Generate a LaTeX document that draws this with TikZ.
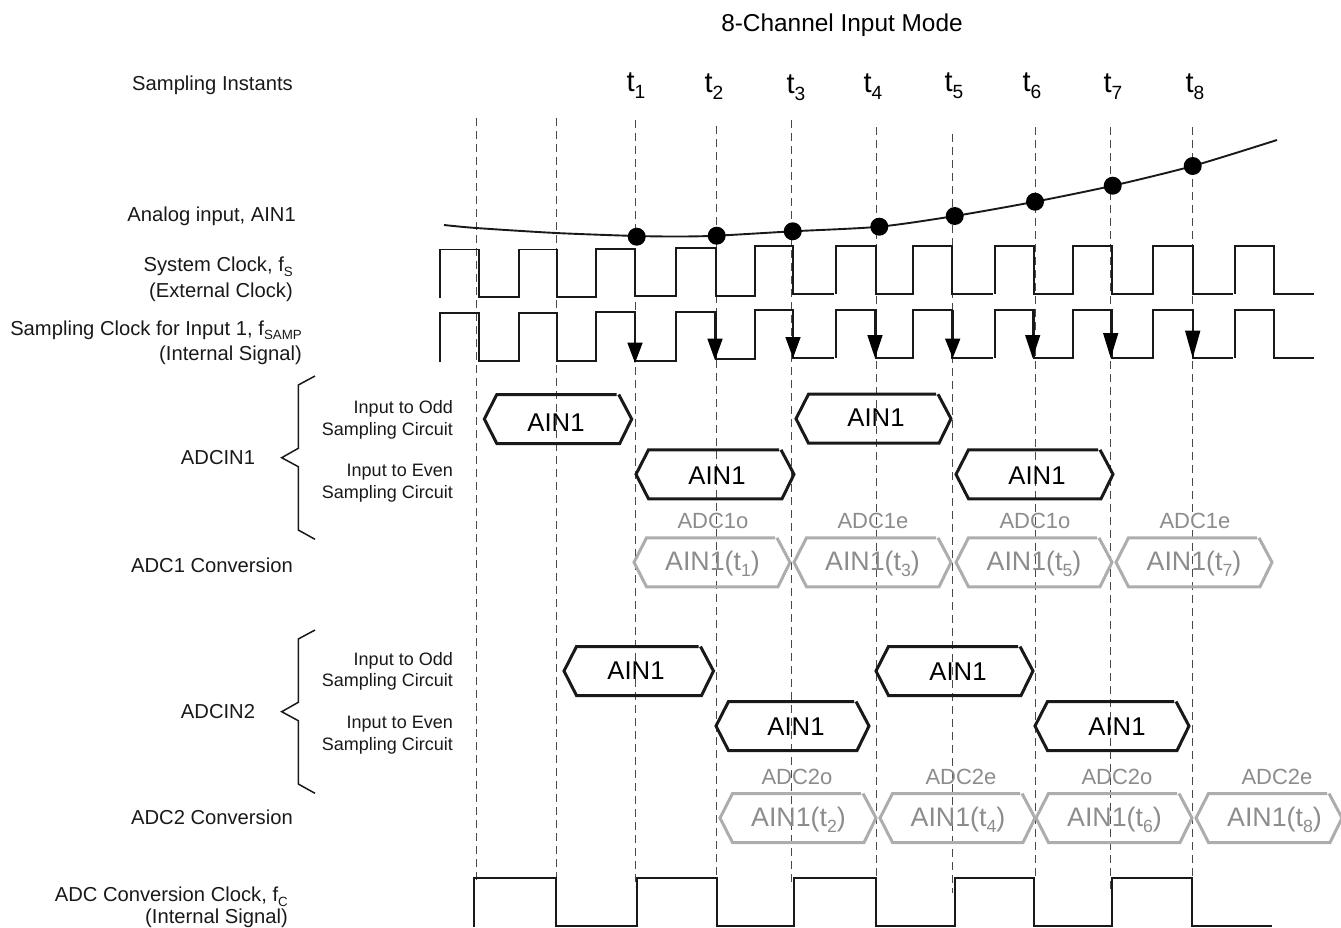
\documentclass[tikz,border=0pt]{standalone}
\usepackage{fontspec}
\setmainfont{Liberation Sans}
\newcommand\subt[1]{\raisebox{-.22em}{\scalebox{.66}{#1}}}
\definecolor{dashc}{HTML}{484848}
\definecolor{hexgray}{HTML}{ADADAD}
\definecolor{txtgray}{HTML}{8C8C8C}
\tikzset{
  lbl/.style={inner sep=0pt,yshift=-1.2pt,font=\fontsize{20.2}{24}\selectfont,text=black!90},
  lblr/.style={lbl,anchor=east},
  small/.style={inner sep=0pt,yshift=-1pt,anchor=east,font=\fontsize{18}{22}\selectfont,text=black!90},
  big/.style={inner sep=0pt,yshift=-.6pt,font=\fontsize{25.7}{30}\selectfont},
  hexblack/.style={line width=3pt,black!90,line join=miter},
  hexgrey/.style={line width=3pt,hexgray,line join=miter},
  graytext/.style={inner sep=0pt,text=txtgray,font=\fontsize{22}{26}\selectfont},
  grayhex/.style={inner sep=0pt,yshift=-1.5pt,text=txtgray,font=\fontsize{26.8}{30}\selectfont},
  timing/.style={line width=1.9pt,black!90,line join=miter},
  guide/.style={line width=1.4pt,dashc,dash pattern=on 8pt off 5pt},
  brace/.style={line width=1.5pt,black!90,line join=miter},
  sampledot/.style={circle,fill=black,inner sep=0pt,minimum size=18pt},
}
\begin{document}
\begin{tikzpicture}[x=1pt,y=-1pt]
\useasboundingbox (0,0) rectangle (1341,927);
% dashed guides
\foreach \x/\a/\b in {476.7/118/883,556.7/118/878,635.3/120/887,716.7/126/878,791.7/120/887,876.7/127/878,952.7/134/893,1035.3/127/878,1110.7/127/893,1192.7/127/878}{
  \draw[guide] (\x,\a) -- (\x,\b);
}
% analog curve
\draw[line width=1.9pt,black!90] plot[smooth,tension=.45] coordinates {(444,225) (476,228) (556,233) (636.7,236) (680,236.5) (716.7,235.7) (792.7,231.3) (879.3,226.7) (954.7,216) (1035,201.7) (1112.7,185.7) (1192.7,166) (1277,140)};
\foreach \n/\x/\y in {1/636.7/236.7,2/716.7/235.7,3/792.7/231.3,4/879.3/226.7,5/954.7/216,6/1035/201.7,7/1112.7/185.7,8/1192.7/166}{
  \node[sampledot] (dot\n) at (\x,\y) {};
}
% system clock
\draw[timing] (440,298) -- (440,249.5) -- (479,249.5) -- (479,297) -- (519,297) -- (519,249.5) -- (557,249.5) -- (557,297) -- (595.7,297) -- (595.7,248.7) -- (635,248.7) -- (635,296) -- (675.7,296) -- (675.7,248) -- (715.7,248) -- (715.7,295.7) -- (754.7,295.7) -- (754.7,246) -- (793,246) -- (793,294) -- (834,294);
\draw[timing] (836,294) -- (836,246) -- (875.7,246) -- (875.7,294) -- (913.3,294) -- (913.3,246) -- (952.3,246) -- (952.3,294) -- (992.7,294);
\draw[timing] (995,294) -- (995,246) -- (1034,246) -- (1034,294) -- (1073.3,294) -- (1073.3,246) -- (1112.3,246) -- (1112.3,294) -- (1153.3,294) -- (1153.3,246) -- (1192.7,246) -- (1192.7,294) -- (1232.7,294);
\draw[timing] (1235,294) -- (1235,246) -- (1274.3,246) -- (1274.3,294) -- (1314,294);
% sampling clock
\draw[timing] (440,362) -- (440,313) -- (479,313) -- (479,361) -- (519,361) -- (519,313) -- (557,313) -- (557,361) -- (595.7,361) -- (595.7,312) -- (635,312) -- (635,360.7) -- (675.7,360.7) -- (675.7,312) -- (715.7,312) -- (715.7,359.3) -- (754.7,359.3) -- (754.7,310) -- (793,310) -- (793,358) -- (834,358);
\draw[timing] (836,358) -- (836,310) -- (875.7,310) -- (875.7,358) -- (913.3,358) -- (913.3,310) -- (952.3,310) -- (952.3,358) -- (992.7,358);
\draw[timing] (995,358) -- (995,310) -- (1034,310) -- (1034,358) -- (1073.3,358) -- (1073.3,310) -- (1112.3,310) -- (1112.3,358) -- (1153.3,358) -- (1153.3,310) -- (1192.7,310) -- (1192.7,358) -- (1232.7,358);
\draw[timing] (1235,358) -- (1235,310) -- (1274.3,310) -- (1274.3,358) -- (1314,358);
% sampling arrows
\foreach \x/\t/\b/\h in {635/363/342.7/312,715/360/338.7/312,793/358/337/310,875/358/335/310,952.7/358/338.7/310,1032.7/358/335/310,1110.7/358/333/310,1192.7/358/330.7/310}{
  \draw[line width=2.4pt,black!90] (\x,\h) -- (\x,\b);
  \fill[black] (\x-7.7,\b) -- (\x+7.7,\b) -- (\x,\t) -- cycle;
}
% conversion clock
\draw[timing,line width=2.1pt] (474,927) -- (474,878.3) -- (556,878.3) -- (556,926) -- (636.7,926) -- (636.7,877.7) -- (716.7,877.7) -- (716.7,926) -- (794,926) -- (794,878.3) -- (876,878.3) -- (876,926) -- (955,926) -- (955,878.3) -- (1034,878.3) -- (1034,926) -- (1112.3,926) -- (1112.3,878.3) -- (1192.3,878.3) -- (1192.3,926) -- (1271.7,926);
% black hexagons
\foreach \l/\r/\y/\tx/\ty/\n in {484.3/631.7/419/556/422/oa,796/951/418.7/876/417/ob,636/794/474.3/717/475/ea,956/1113/474.3/1037/475/eb,564/713.5/671/636/670/oc,876/1033/671/958/671/od,716/869/726/796/726/ec,1035/1189/726/1117/726/ed}{
  \draw[hexblack] (\r-15,\y-24.5) -- (\l+12.5,\y-24.5) -- (\l,\y) -- (\l+12.5,\y+24.5) -- (\r-12,\y+24.5) -- (\r,\y) -- (\r-13,\y-24.5);
  \node[big] (hex\n) at (\tx,\ty) {AIN1};
}
% grey hexagons
\foreach \l/\r/\y/\tx/\n/\s/\hx/\hl in {634/790/562.3/712.5/1/1/713/ADC1o,794/951/562.3/872.5/3/3/873/ADC1e,956/1112/562.3/1034/5/5/1035/ADC1o,1116/1272/562.3/1194/7/7/1195/ADC1e,720/876/818/798.5/2/2/797/ADC2o,880/1035/818/958/4/4/961/ADC2e,1036/1192/818/1114.5/6/6/1117/ADC2o,1196/1342/818/1274.5/8/8/1277/ADC2e}{
  \draw[hexgrey] (\r-15,\y-24.5) -- (\l+12.5,\y-24.5) -- (\l,\y) -- (\l+12.5,\y+24.5) -- (\r-12,\y+24.5) -- (\r,\y) -- (\r-13,\y-24.5);
  \node[grayhex] (conv\n) at (\tx,\y) {AIN1(t\subt{\s})};
  \node[graytext] (tag\n) at (\hx,\y-41.5) {\hl};
}
% braces
\draw[brace] (315,376) -- (298.3,385) -- (298.3,448.3) -- (281.7,457.7) -- (298.3,466.7) -- (298.3,530) -- (315,539.3);
\draw[brace] (315,630) -- (298.3,639) -- (298.3,702.3) -- (281.7,711.7) -- (298.3,720.7) -- (298.3,784) -- (315,793.3);
% title and instants
\node[big,font=\fontsize{24.4}{30}\selectfont] (title) at (842,25) {8-Channel Input Mode};
\foreach \n/\x/\y in {1/636/85,2/714/86,3/796/87,4/873/86,5/954/85,6/1032/85,7/1113/86,8/1195/86}{
  \node[big,font=\fontsize{29}{34}\selectfont] (inst\n) at (\x,\y) {t\subt{\n}};
}
% labels
\node[lblr] (si) at (293,84) {Sampling Instants};
\node[lblr] (ai) at (296,215) {Analog input, AIN1};
\node[lblr] (sc) at (293,265.5) {System Clock, f\subt{S}};
\node[lblr] (ec) at (293,291.5) {(External Clock)};
\node[lblr] (sa) at (302,329) {Sampling Clock for Input 1, f\subt{SAMP}};
\node[lblr] (is) at (302,354.5) {(Internal Signal)};
\node[lbl] (adcin1) at (218,456) {ADCIN1};
\node[small] (o1a) at (453,408) {Input to Odd};
\node[small] (o1b) at (453,429.5) {Sampling Circuit};
\node[small] (e1a) at (453,471) {Input to Even};
\node[small] (e1b) at (453,493) {Sampling Circuit};
\node[lblr] (ac1) at (293,564) {ADC1 Conversion};
\node[lbl] (adcin2) at (218,710) {ADCIN2};
\node[small] (o2a) at (453,659.5) {Input to Odd};
\node[small] (o2b) at (453,681) {Sampling Circuit};
\node[small] (e2a) at (453,723) {Input to Even};
\node[small] (e2b) at (453,745) {Sampling Circuit};
\node[lblr] (ac2) at (293,816) {ADC2 Conversion};
\node[lblr] (cc) at (288,895.5) {ADC Conversion Clock, f\subt{C}};
\node[lblr] (is2) at (288,917) {(Internal Signal)};
\end{tikzpicture}
\end{document}
